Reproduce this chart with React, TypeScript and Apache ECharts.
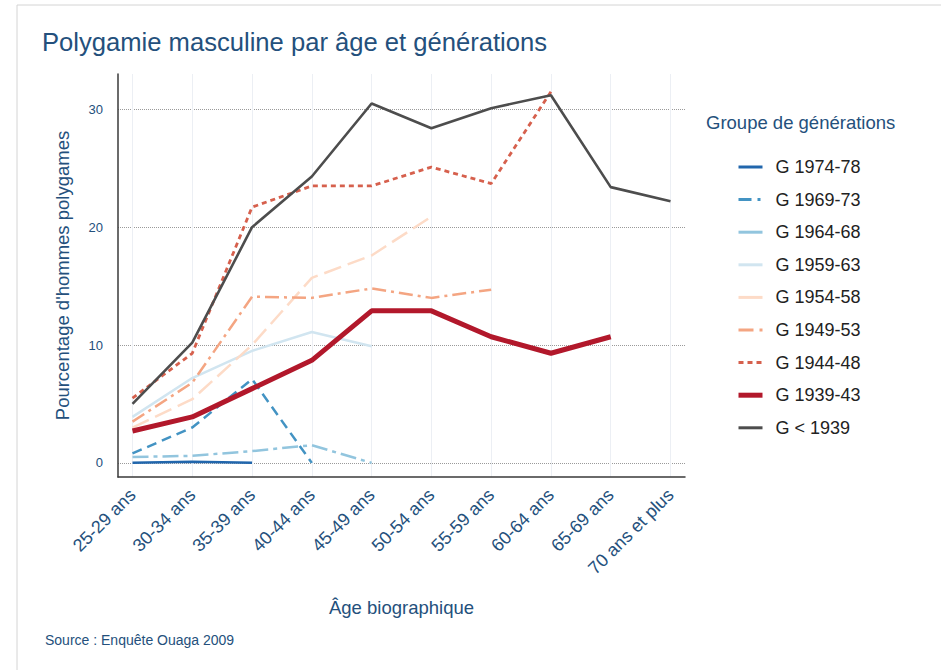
import React, { useEffect, useRef } from "react";
import * as echarts from "echarts";

const categories = [
  "25-29 ans",
  "30-34 ans",
  "35-39 ans",
  "40-44 ans",
  "45-49 ans",
  "50-54 ans",
  "55-59 ans",
  "60-64 ans",
  "65-69 ans",
  "70 ans et plus",
];

const seriesNames = [
  "G 1974-78",
  "G 1969-73",
  "G 1964-68",
  "G 1959-63",
  "G 1954-58",
  "G 1949-53",
  "G 1944-48",
  "G 1939-43",
  "G < 1939",
];

const g1974_78 = [0.0, 0.1, 0.0];
const g1969_73 = [0.8, 3.0, 7.1, 0.0];
const g1964_68 = [0.5, 0.6, 1.0, 1.5, 0.0];
const g1959_63 = [3.9, 7.2, 9.5, 11.1, 9.9];
const g1954_58 = [3.0, 5.4, 10.0, 15.7, 17.6, 20.9];
const g1949_53 = [3.5, 6.8, 14.1, 14.0, 14.8, 14.0, 14.7];
const g1944_48 = [5.5, 9.3, 21.7, 23.5, 23.5, 25.1, 23.7, 31.5];
const g1939_43 = [2.7, 3.9, 6.3, 8.7, 12.9, 12.9, 10.7, 9.3, 10.7];
const gBefore1939 = [5.0, 10.2, 20.0, 24.3, 30.5, 28.4, 30.1, 31.2, 23.4, 22.2];

const seriesValues = [
  g1974_78,
  g1969_73,
  g1964_68,
  g1959_63,
  g1954_58,
  g1949_53,
  g1944_48,
  g1939_43,
  gBefore1939,
];

const colors = [
  "#2166ac",
  "#4393c3",
  "#92c5de",
  "#d1e5f0",
  "#fddbc7",
  "#f4a582",
  "#d6604d",
  "#b2182b",
  "#4d4d4d",
];
const widths = [2.5, 2.5, 2.5, 2.5, 2.5, 2.5, 2.8, 5, 2.6];
const legendWidths = [3, 3, 3, 3, 3, 3, 3, 5, 3];
const dashes: any[] = [
  "solid",
  [10, 6],
  [16, 5, 4, 5],
  "solid",
  [18, 7],
  [14, 5, 3, 5],
  [5, 4],
  "solid",
  "solid",
];
const legendDashes: any[] = [
  "solid",
  [13, 6, 3, 6],
  "solid",
  "solid",
  "solid",
  [15, 6, 3, 6],
  [5, 4],
  "solid",
  "solid",
];

const TXT = "#24507c";
const FONT = "'Liberation Sans', Arial, Helvetica, sans-serif";

export default function App() {
  const ref = useRef<HTMLDivElement>(null);
  useEffect(() => {
    if (!ref.current) return;
    const chart = echarts.init(ref.current, null, { renderer: "svg" });
    const series = seriesNames.map((name, i) => ({
      type: "line",
      name,
      data: seriesValues[i],
      xAxisIndex: 1,
      yAxisIndex: 1,
      symbol: "none",
      showSymbol: false,
      itemStyle: { color: colors[i] },
      lineStyle: { color: colors[i], width: widths[i], type: dashes[i], cap: "butt" },
      emphasis: { disabled: true },
    }));
    const legendData = seriesNames.map((name, i) => ({
      name,
      lineStyle: { width: legendWidths[i], type: legendDashes[i], color: colors[i] },
    }));
    chart.setOption({
      animation: false,
      backgroundColor: "#ffffff",
      textStyle: { fontFamily: FONT },
      title: [
        {
          text: "Polygamie masculine par âge et générations",
          left: 42,
          top: 29,
          padding: 0,
          textStyle: { fontSize: 25.6, fontWeight: "normal", color: TXT, fontFamily: FONT },
        },
        {
          text: "Groupe de générations",
          left: 706,
          top: 113,
          padding: 0,
          textStyle: { fontSize: 18.5, fontWeight: "normal", color: TXT, fontFamily: FONT },
        },
        {
          text: "Source : Enquête Ouaga 2009",
          left: 45,
          top: 633,
          padding: 0,
          textStyle: { fontSize: 14, fontWeight: "normal", color: TXT, fontFamily: FONT },
        },
      ],
      legend: {
        orient: "vertical",
        left: 736,
        top: 158,
        padding: 0,
        itemWidth: 24,
        itemHeight: 14,
        itemGap: 14.6,
        data: legendData,
        selectedMode: false,
        itemStyle: { opacity: 0 },
        textStyle: {
          fontSize: 18,
          color: "#222222",
          lineHeight: 18,
          padding: [0, 0, 0, 8],
          fontFamily: FONT,
        },
      },
      grid: [
        { left: 118, top: 74, width: 567, height: 403 },
        { left: 132.5, top: 74, width: 538, height: 403 },
      ],
      xAxis: [
        {
          gridIndex: 0,
          type: "value",
          min: 0,
          max: 1,
          axisLine: { show: true, onZero: false, lineStyle: { color: "#3a3a3a", width: 1.5 } },
          axisTick: { show: false },
          axisLabel: { show: false },
          splitLine: { show: false },
          name: "Âge biographique",
          nameLocation: "middle",
          nameGap: 121,
          nameTextStyle: { fontSize: 18.5, color: TXT, fontFamily: FONT },
        },
        {
          gridIndex: 1,
          type: "category",
          data: categories,
          boundaryGap: false,
          axisLine: { show: false },
          axisTick: { show: false },
          axisLabel: { rotate: 45, interval: 0, fontSize: 18, color: TXT, margin: 15, fontFamily: FONT },
          splitLine: { show: true, lineStyle: { color: "#eceff4", width: 1 } },
        },
      ],
      yAxis: [
        {
          gridIndex: 0,
          type: "value",
          min: -1.2,
          max: 33,
          splitNumber: 3,
          axisLine: { show: true, onZero: false, lineStyle: { color: "#3a3a3a", width: 1.5 } },
          axisTick: { show: false },
          axisLabel: {
            fontSize: 13,
            color: TXT,
            margin: 15,
            fontFamily: FONT,
            formatter: (v: number) => (Math.abs(v % 10) < 1e-9 ? String(v) : ""),
          },
          splitLine: {
            show: true,
            showMinLine: false,
            showMaxLine: false,
            lineStyle: { color: "#9a9a9a", type: "dotted", width: 1 },
          },
          name: "Pourcentage d'hommes polygames",
          nameLocation: "middle",
          nameRotate: 90,
          nameGap: 46,
          nameTextStyle: { fontSize: 18.5, color: TXT, fontFamily: FONT },
        },
        {
          gridIndex: 1,
          type: "value",
          min: -1.2,
          max: 33,
          show: false,
          splitLine: { show: false },
        },
      ],
      graphic: [
        { type: "line", shape: { x1: 17, y1: 5, x2: 941, y2: 5 }, style: { stroke: "#d4d4d4", lineWidth: 1 } },
        { type: "line", shape: { x1: 17, y1: 5, x2: 17, y2: 670 }, style: { stroke: "#d4d4d4", lineWidth: 1 } },
      ],
      series,
    });
    return () => chart.dispose();
  }, []);
  return (
    <div
      ref={ref}
      style={{ position: "fixed", left: 0, top: 0, width: 941, height: 670 }}
    />
  );
}
